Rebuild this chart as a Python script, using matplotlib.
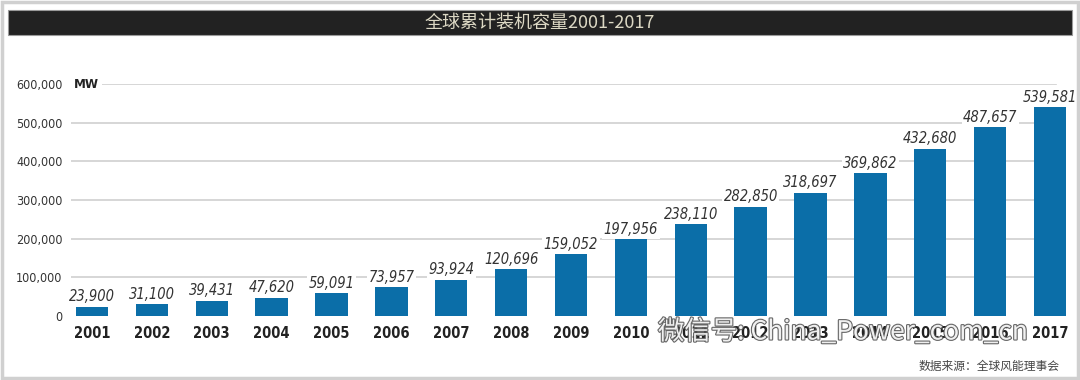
import matplotlib.pyplot as plt
import matplotlib.patheffects as pe
from matplotlib.patches import Rectangle

years = ["2001", "2002", "2003", "2004", "2005", "2006", "2007", "2008", "2009",
         "2010", "2011", "2012", "2013", "2014", "2015", "2016", "2017"]
capacity = [23900, 31100, 39431, 47620, 59091, 73957, 93924, 120696, 159052,
            197956, 238110, 282850, 318697, 369862, 432680, 487657, 539581]
yticks = [0, 100000, 200000, 300000, 400000, 500000, 600000]

title = "全球累计装机容量2001-2017"
source = "数据来源：全球风能理事会"
watermark = "微信号: China_Power_com_cn"

cjk = ["Noto Sans CJK SC", "DejaVu Sans"]
cond = dict(family="DejaVu Sans", fontstretch="condensed")

W, H = 1080, 380
fig = plt.figure(figsize=(W / 100, H / 100), dpi=100)
fig.patch.set_facecolor("white")

# outer frame
fig.patches.append(Rectangle((2 / W, 2 / H), 1 - 4 / W, 1 - 4 / H, transform=fig.transFigure,
                             fill=False, edgecolor="#d0d0d0", linewidth=2.5))
# title bar
fig.patches.append(Rectangle((8 / W, 1 - 35 / H), 1 - 16 / W, 25 / H, transform=fig.transFigure,
                             facecolor="#222222", edgecolor="#9a9a9a", linewidth=0.8))
fig.text(0.5, 1 - 22.5 / H, title, ha="center", va="center", color="#dcd8c4",
         fontsize=13, family=cjk)

# axes: x data -0.35..16.35 spans pixels 71..1071 ; y 0..600000 spans 316..84
ax = fig.add_axes([71 / W, (H - 316) / H, 1000 / W, 232 / H])
ax.set_xlim(-0.35, 16.35)
ax.set_ylim(0, 600000)
for s in ax.spines.values():
    s.set_visible(False)

for v in yticks[1:]:
    ax.axhline(v, color="#cfcfcf", linewidth=1.2, zorder=0, xmax=0.985)

x = list(range(len(years)))
ax.bar(x, capacity, width=0.54, color="#0b6ea8", zorder=2)

for xi, v in zip(x, capacity):
    ax.text(xi, v + 6000, f"{v:,}", ha="center", va="bottom", fontsize=10.5,
            style="italic", color="#333333", zorder=3,
            bbox=dict(facecolor="white", edgecolor="none", pad=1.0), **cond)

ax.set_yticks(yticks)
ax.set_yticklabels([f"{v:,}" for v in yticks], fontsize=9, color="#333333", **cond)
ax.set_xticks(x)
ax.set_xticklabels(years, fontsize=10.5, fontweight="bold", color="#222222", **cond)
ax.tick_params(axis="y", length=0, pad=6)
ax.tick_params(axis="x", length=0, pad=7)

ax.text(0.003, 600000, "MW", ha="left", va="center", fontsize=9.5, fontweight="bold",
        color="#222222", transform=ax.get_yaxis_transform(), zorder=3,
        bbox=dict(facecolor="white", edgecolor="none", pad=2.5), **cond)

# watermark overlay
fig.text(658 / W, 1 - 332 / H, watermark, ha="left", va="center", fontsize=19,
         family=cjk, color="white", alpha=0.9,
         path_effects=[pe.withStroke(linewidth=1.6, foreground="#555555")])

fig.text(1060 / W, 1 - 366 / H, source, ha="right", va="center", fontsize=8.5,
         family=cjk, color="#444444")

fig.savefig("out.png", dpi=100)
